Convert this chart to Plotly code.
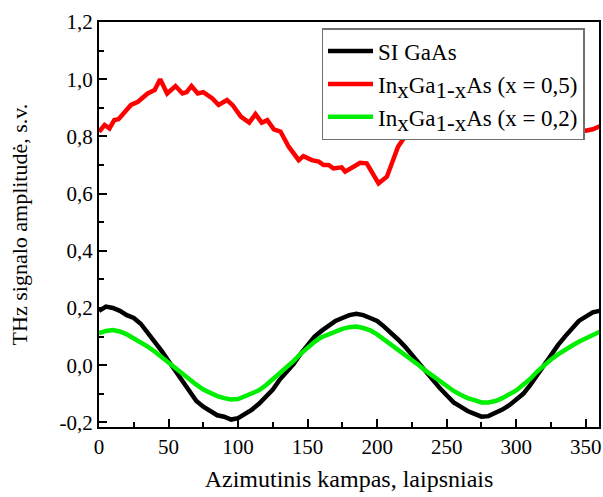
import plotly.graph_objects as go

# Azimuthal dependence of the THz signal amplitude
angle_grid = [0, 5, 10, 15, 20, 25, 30, 35, 40, 45, 50, 55, 60, 65, 70, 75, 80, 85, 90,
              95, 100, 105, 110, 115, 120, 125, 130, 135, 140, 145, 150, 155, 160, 165,
              170, 175, 180, 185, 190, 195, 200, 205, 210, 215, 220, 225, 230, 235, 240,
              245, 250, 255, 260, 265, 270, 275, 280, 285, 290, 295, 300, 305, 310, 315,
              320, 325, 330, 335, 340, 345, 350, 355, 360]

si_gaas = [0.19, 0.205, 0.20, 0.19, 0.175, 0.165, 0.145, 0.115, 0.085, 0.05, 0.015, -0.02,
           -0.055, -0.09, -0.125, -0.145, -0.16, -0.175, -0.18, -0.19, -0.185, -0.17,
           -0.155, -0.135, -0.11, -0.085, -0.05, -0.025, 0.005, 0.04, 0.07, 0.10, 0.12,
           0.14, 0.155, 0.165, 0.175, 0.18, 0.175, 0.165, 0.155, 0.135, 0.115, 0.09, 0.065,
           0.035, 0.005, -0.025, -0.055, -0.08, -0.105, -0.13, -0.145, -0.16, -0.17, -0.18,
           -0.178, -0.168, -0.155, -0.14, -0.122, -0.10, -0.07, -0.035, 0.005, 0.04, 0.07,
           0.10, 0.13, 0.155, 0.17, 0.185, 0.19]

ingaas_02 = [0.112, 0.12, 0.123, 0.118, 0.108, 0.095, 0.08, 0.065, 0.048, 0.028, 0.008,
             -0.012, -0.032, -0.05, -0.068, -0.085, -0.098, -0.108, -0.115, -0.12, -0.118,
             -0.108, -0.10, -0.088, -0.07, -0.05, -0.028, -0.008, 0.015, 0.04, 0.062, 0.082,
             0.098, 0.108, 0.117, 0.127, 0.133, 0.135, 0.13, 0.122, 0.108, 0.09, 0.072,
             0.055, 0.04, 0.02, 0.0, -0.02, -0.038, -0.055, -0.072, -0.09, -0.103, -0.115,
             -0.122, -0.13, -0.13, -0.125, -0.115, -0.10, -0.088, -0.068, -0.048, -0.022,
             0.0, 0.02, 0.038, 0.055, 0.068, 0.082, 0.095, 0.108, 0.117]

angle_05 = [0, 4, 7.5, 11, 14, 18, 23, 28, 32, 35, 40, 44, 49, 55, 60, 63, 66.5, 71, 75, 78,
            81.5, 86, 92, 96, 102, 108, 112.5, 117, 121, 125.7, 130.5, 136.4, 143.6, 147,
            153, 158, 161.5, 165, 168.6, 174.5, 177, 183, 187.7, 192.5, 197, 201, 207,
            210.4, 215, 220, 230, 245, 260, 280, 300, 320, 340, 350, 355, 360]
ingaas_05 = [0.816, 0.84, 0.828, 0.857, 0.86, 0.88, 0.91, 0.921, 0.935, 0.95, 0.962, 1.0,
             0.95, 0.976, 0.95, 0.955, 0.976, 0.95, 0.955, 0.945, 0.933, 0.91, 0.927, 0.91,
             0.869, 0.848, 0.878, 0.848, 0.857, 0.825, 0.817, 0.764, 0.717, 0.731, 0.717,
             0.712, 0.70, 0.70, 0.688, 0.692, 0.677, 0.694, 0.708, 0.706, 0.671, 0.636,
             0.659, 0.706, 0.764, 0.80, 0.83, 0.86, 0.88, 0.88, 0.86, 0.85, 0.83, 0.82,
             0.825, 0.835]

x_ticks = [0, 50, 100, 150, 200, 250, 300, 350]
y_ticks = [-0.2, 0.0, 0.2, 0.4, 0.6, 0.8, 1.0, 1.2]
y_tick_labels = ["-0,2", "0,0", "0,2", "0,4", "0,6", "0,8", "1,0", "1,2"]

FONT = "Liberation Serif, Times New Roman, serif"


def sub(t):
    # subscript drawn at the same size as the base text
    return f"<sub><span style='font-size:23px'>{t}</span></sub>"


legend_names = ["SI GaAs",
                f"In{sub('x')}Ga{sub('1-x')}As (x = 0,5)",
                f"In{sub('x')}Ga{sub('1-x')}As (x = 0,2)"]

fig = go.Figure()
fig.add_trace(go.Scatter(x=angle_grid, y=si_gaas, mode="lines", name=legend_names[0],
                         legendgroup="a", line=dict(color="black", width=4.5)))
fig.add_trace(go.Scatter(x=angle_05, y=ingaas_05, mode="lines", name=legend_names[1],
                         legendgroup="b", line=dict(color="#ff0000", width=4.5)))
fig.add_trace(go.Scatter(x=angle_grid, y=ingaas_02, mode="lines", name=legend_names[2],
                         legendgroup="c", line=dict(color="#00ee00", width=4.5)))

axis_common = dict(showline=True, linecolor="black", linewidth=2, mirror=True,
                   ticks="inside", ticklen=8, tickwidth=1.5, tickcolor="black",
                   showgrid=False, zeroline=False,
                   tickfont=dict(family=FONT, size=21, color="black"))

fig.update_xaxes(range=[0, 359.5], tickvals=x_ticks,
                 minor=dict(ticks="inside", ticklen=5, tickwidth=1.5, dtick=25,
                            tickcolor="black"),
                 title=dict(text="Azimutinis kampas, laipsniais",
                            font=dict(family=FONT, size=24, color="black"), standoff=12),
                 **axis_common)
fig.update_yaxes(range=[-0.216, 1.2], tickvals=y_ticks, ticktext=y_tick_labels,
                 minor=dict(ticks="inside", ticklen=5, tickwidth=1.5, dtick=0.1,
                            tickcolor="black"),
                 title=dict(text="THz signalo amplitudė, s.v.",
                            font=dict(family=FONT, size=22, color="black"), standoff=26),
                 **axis_common)

fig.update_layout(
    width=603, height=497,
    margin=dict(l=99, r=2, t=22, b=70),
    plot_bgcolor="white", paper_bgcolor="white",
    showlegend=True,
    legend=dict(x=0.445, y=0.985, xanchor="left", yanchor="top",
                bgcolor="white", bordercolor="#707070", borderwidth=1.5,
                font=dict(family=FONT, size=23, color="black"),
                itemwidth=45, tracegroupgap=0),
)

fig.write_html("out.html")
